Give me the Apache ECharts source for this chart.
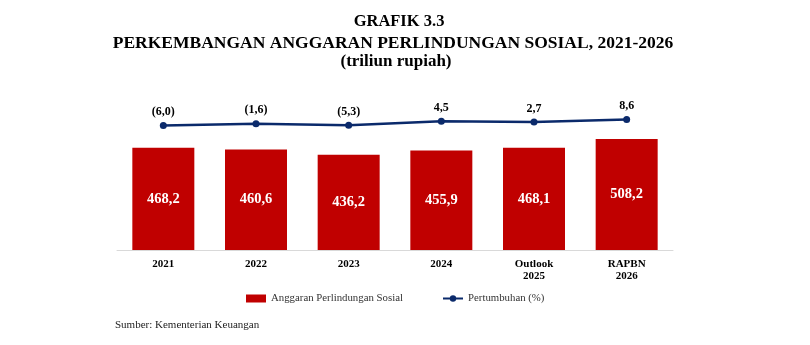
<!DOCTYPE html>
<html><head><meta charset="utf-8">
<script src="https://cdn.jsdelivr.net/npm/echarts@6/dist/echarts.min.js"></script>
<style>html,body{margin:0;padding:0;background:#fff}#c{width:810px;height:345px}</style>
</head><body><div id="c"></div>
<script>
const categories = ['2021', '2022', '2023', '2024', 'Outlook\n2025', 'RAPBN\n2026'];
const anggaran = [468.2, 460.6, 436.2, 455.9, 468.1, 508.2];
const pertumbuhan = [-6.0, -1.6, -5.3, 4.5, 2.7, 8.6];
const fmt = v => { const s = Math.abs(v).toFixed(1).replace('.', ','); return v < 0 ? '(' + s + ')' : s; };
const serif = '"Liberation Serif", "DejaVu Serif", serif';
const chart = echarts.init(document.getElementById('c'));
chart.setOption({
  animation: false,
  textStyle: { fontFamily: serif },
  title: [
    { text: 'GRAFIK 3.3', left: 394, textAlign: 'center', top: 8, textStyle: { fontFamily: serif, fontSize: 16.5, fontWeight: 'bold', color: '#000' } },
    { text: 'PERKEMBANGAN ANGGARAN PERLINDUNGAN SOSIAL, 2021-2026', left: 388, textAlign: 'center', top: 29, textStyle: { fontFamily: serif, fontSize: 17.5, fontWeight: 'bold', color: '#000' } },
    { text: '(triliun rupiah)', left: 391, textAlign: 'center', top: 48, textStyle: { fontFamily: serif, fontSize: 17, fontWeight: 'bold', color: '#000' } },
    { text: 'Sumber: Kementerian Keuangan', left: 110, top: 315, textStyle: { fontFamily: serif, fontSize: 11, fontWeight: 'normal', color: '#222' } }
  ],
  legend: [
    { id: 'lg1', data: [{ name: 'Anggaran Perlindungan Sosial', icon: 'rect' }], left: 241, top: 288, itemWidth: 20, itemHeight: 8, itemGap: 0,
      textStyle: { fontFamily: serif, fontSize: 10.8, color: '#333' } },
    { id: 'lg2', data: ['Pertumbuhan (%)'], left: 437, top: 288, itemWidth: 20, itemHeight: 8, itemGap: 0,
      textStyle: { fontFamily: serif, fontSize: 10.8, color: '#333' } }
  ],
  grid: { left: 117, right: 137, top: 119, height: 131, containLabel: false },
  xAxis: {
    type: 'category', data: categories,
    axisLine: { lineStyle: { color: '#d9d9d9', width: 1 } },
    axisTick: { show: false },
    axisLabel: { fontFamily: serif, fontWeight: 'bold', fontSize: 11, color: '#000', margin: 8, lineHeight: 12 }
  },
  yAxis: [
    { type: 'value', min: 0, max: 600, show: false, splitLine: { show: false } },
    { type: 'value', min: -310, max: 10, show: false, splitLine: { show: false } }
  ],
  series: [
    { name: 'Anggaran Perlindungan Sosial', type: 'bar', data: anggaran, barWidth: 62,
      itemStyle: { color: '#C00000' },
      label: { show: true, position: 'inside', formatter: p => fmt(p.value), color: '#fff', fontFamily: serif, fontWeight: 'bold', fontSize: 14.5 } },
    { name: 'Pertumbuhan (%)', type: 'line', yAxisIndex: 1, data: pertumbuhan,
      symbol: 'circle', symbolSize: 7,
      lineStyle: { color: '#0B2A6B', width: 2.5 }, itemStyle: { color: '#0B2A6B' },
      label: { show: true, position: 'top', distance: 4, formatter: p => fmt(p.value), color: '#000', fontFamily: serif, fontWeight: 'bold', fontSize: 12 } }
  ]
});
</script></body></html>
